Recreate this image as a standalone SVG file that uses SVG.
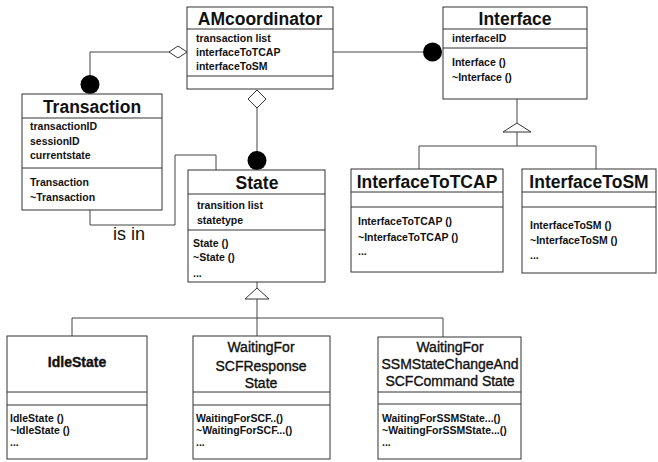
<svg xmlns="http://www.w3.org/2000/svg" width="658" height="462" viewBox="0 0 658 462">
<style>
.box{fill:#fff;stroke:#333;stroke-width:1}
.sep{stroke:#333;stroke-width:1}
.ln{fill:none;stroke:#444;stroke-width:1}
.dia{fill:#fff;stroke:#333;stroke-width:1}
.dot{fill:#000}
.t{font-family:"Liberation Sans",Arial,sans-serif;font-size:17.5px;font-weight:bold;text-anchor:middle;fill:#111}
.m{font-family:"Liberation Sans",Arial,sans-serif;font-size:14px;text-anchor:middle;fill:#111;stroke:#111;stroke-width:0.35}
.s{font-family:"Liberation Sans",Arial,sans-serif;font-size:10.5px;font-weight:bold;fill:#111}
.lbl{font-family:"Liberation Sans",Arial,sans-serif;font-size:18px;fill:#111}
</style>
<rect width="658" height="462" fill="#fff"/>
<g id="connectors">
  <polyline class="ln" points="169,52 90,52 90,75"/>
  <polygon class="dia" points="187,52 178,46 169,52 178,58"/>
  <circle class="dot" cx="90" cy="84.5" r="9.5"/>
  <line class="ln" x1="333" y1="52" x2="423" y2="52"/>
  <circle class="dot" cx="432.5" cy="52" r="9.5"/>
  <line class="ln" x1="257" y1="108" x2="257" y2="152"/>
  <polygon class="dia" points="257,90 266,99 257,108 248,99"/>
  <circle class="dot" cx="257" cy="160.5" r="9.5"/>
  <polyline class="ln" points="90,210 90,225 175,225 175,155 216,155 216,170"/>
  <text class="lbl" x="129" y="240" text-anchor="middle">is in</text>
  <line class="ln" x1="517" y1="99" x2="517" y2="123"/>
  <polygon class="dia" points="517,123 531,132 503,132"/>
  <line class="ln" x1="517" y1="132" x2="517" y2="146"/>
  <polyline class="ln" points="419,169 419,146 596,146 596,169"/>
  <line class="ln" x1="257" y1="282" x2="257" y2="288"/>
  <polygon class="dia" points="257,288 269,299 245,299"/>
  <line class="ln" x1="257" y1="299" x2="257" y2="336"/>
  <polyline class="ln" points="72,336 72,318 443,318 443,337"/>
</g>
<g id="AMcoordinator">
  <rect class="box" x="187" y="7" width="146" height="82"/>
  <line class="sep" x1="187" y1="29" x2="333" y2="29"/>
  <line class="sep" x1="187" y1="76" x2="333" y2="76"/>
  <text class="t" x="260" y="25">AMcoordinator</text>
  <text class="s" x="196" y="41.5">transaction list</text>
  <text class="s" x="196" y="55.5">interfaceToTCAP</text>
  <text class="s" x="196" y="70">interfaceToSM</text>
</g>
<g id="Transaction">
  <rect class="box" x="22" y="94" width="140" height="116"/>
  <line class="sep" x1="22" y1="118" x2="162" y2="118"/>
  <line class="sep" x1="22" y1="168" x2="162" y2="168"/>
  <text class="t" x="92" y="113">Transaction</text>
  <text class="s" x="30" y="130">transactionID</text>
  <text class="s" x="30" y="144.5">sessionID</text>
  <text class="s" x="30" y="159">currentstate</text>
  <text class="s" x="30" y="186">Transaction</text>
  <text class="s" x="30" y="200.5">~Transaction</text>
</g>
<g id="Interface">
  <rect class="box" x="443" y="7" width="144" height="92"/>
  <line class="sep" x1="443" y1="29" x2="587" y2="29"/>
  <line class="sep" x1="443" y1="48" x2="587" y2="48"/>
  <text class="t" x="515" y="25">Interface</text>
  <text class="s" x="452" y="42">interfaceID</text>
  <text class="s" x="452" y="65.5">Interface ()</text>
  <text class="s" x="452" y="80.5">~Interface ()</text>
</g>
<g id="State">
  <rect class="box" x="188" y="170" width="137" height="112"/>
  <line class="sep" x1="188" y1="194" x2="325" y2="194"/>
  <line class="sep" x1="188" y1="230" x2="325" y2="230"/>
  <text class="t" x="257" y="189">State</text>
  <text class="s" x="197" y="208.5">transition list</text>
  <text class="s" x="197" y="223.5">statetype</text>
  <text class="s" x="193" y="246.5">State ()</text>
  <text class="s" x="193" y="260.5">~State ()</text>
  <text class="s" x="193" y="277">...</text>
</g>
<g id="InterfaceToTCAP">
  <rect class="box" x="351" y="169" width="152" height="103"/>
  <line class="sep" x1="351" y1="192" x2="503" y2="192"/>
  <line class="sep" x1="351" y1="207" x2="503" y2="207"/>
  <text class="t" x="427" y="188">InterfaceToTCAP</text>
  <text class="s" x="358" y="224.5">InterfaceToTCAP ()</text>
  <text class="s" x="358" y="240.5">~InterfaceToTCAP ()</text>
  <text class="s" x="358" y="255">...</text>
</g>
<g id="InterfaceToSM">
  <rect class="box" x="522" y="169" width="134" height="104"/>
  <line class="sep" x1="522" y1="192" x2="656" y2="192"/>
  <line class="sep" x1="522" y1="207" x2="656" y2="207"/>
  <text class="t" x="589" y="188">InterfaceToSM</text>
  <text class="s" x="530" y="228.5">InterfaceToSM ()</text>
  <text class="s" x="530" y="243.5">~InterfaceToSM ()</text>
  <text class="s" x="530" y="259">...</text>
</g>
<g id="IdleState">
  <rect class="box" x="7" y="336" width="140" height="123"/>
  <line class="sep" x1="7" y1="392" x2="147" y2="392"/>
  <line class="sep" x1="7" y1="405" x2="147" y2="405"/>
  <text class="m" x="77" y="367" font-weight="bold" stroke-width="0">IdleState</text>
  <text class="s" x="10" y="421.5">IdleState ()</text>
  <text class="s" x="10" y="433.5">~IdleState ()</text>
  <text class="s" x="10" y="446">...</text>
</g>
<g id="WaitingForSCFResponseState">
  <rect class="box" x="193" y="336" width="137" height="123"/>
  <line class="sep" x1="193" y1="392" x2="330" y2="392"/>
  <line class="sep" x1="193" y1="405" x2="330" y2="405"/>
  <text class="m" x="261" y="352">WaitingFor</text>
  <text class="m" x="261" y="371">SCFResponse</text>
  <text class="m" x="261" y="388">State</text>
  <text class="s" x="196" y="421.5">WaitingForSCF..()</text>
  <text class="s" x="196" y="433.5">~WaitingForSCF...()</text>
  <text class="s" x="196" y="446">...</text>
</g>
<g id="WaitingForSSMStateChangeAndSCFCommandState">
  <rect class="box" x="378" y="337" width="143" height="122"/>
  <line class="sep" x1="378" y1="392" x2="521" y2="392"/>
  <line class="sep" x1="378" y1="404" x2="521" y2="404"/>
  <text class="m" x="450" y="352">WaitingFor</text>
  <text class="m" x="450" y="368.5">SSMStateChangeAnd</text>
  <text class="m" x="450" y="386">SCFCommand State</text>
  <text class="s" x="382" y="421.5">WaitingForSSMState...()</text>
  <text class="s" x="382" y="433.5">~WaitingForSSMState...()</text>
  <text class="s" x="382" y="446">...</text>
</g>
</svg>
